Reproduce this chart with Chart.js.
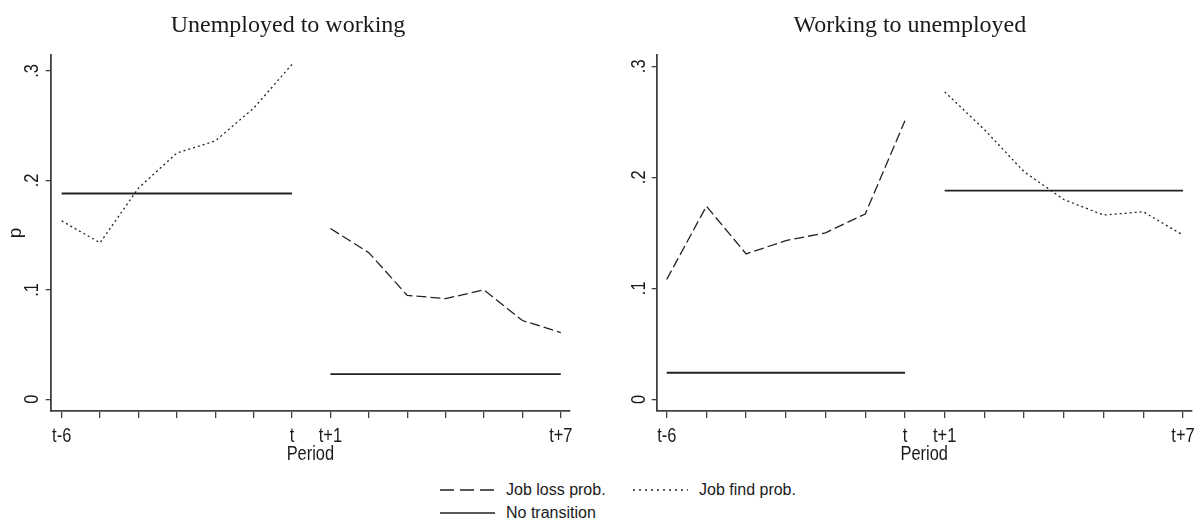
<!DOCTYPE html>
<html>
<head>
<meta charset="utf-8">
<script src="https://cdn.jsdelivr.net/npm/chart.js@4.4.1/dist/chart.umd.min.js"></script>
<style>
    html, body { margin: 0; padding: 0; background: #fff; }
    body { width: 1196px; height: 520px; overflow: hidden; position: relative; }
    .panel { position: absolute; top: 0; width: 598px; height: 470px; }
    #left { left: 0; }
    #right { left: 598px; }
    #legend {
        position: absolute; left: 0; top: 470px; width: 1196px; height: 50px;
        font-family: "Liberation Sans", Arial, sans-serif; font-size: 16px; color: #1a1a1a;
    }
    .item { position: absolute; height: 20px; display: flex; align-items: center; white-space: nowrap; }
    .item svg { margin-right: 11px; }
</style>
</head>
<body>
<div class="panel" id="left"><canvas id="chart-left" width="598" height="470"></canvas></div>
<div class="panel" id="right"><canvas id="chart-right" width="598" height="470"></canvas></div>
<div id="legend">
    <div class="item" style="left:440px; top:10px;">
        <svg width="55" height="6"><line x1="0" y1="3" x2="55" y2="3" stroke="#222" stroke-width="1.3" stroke-dasharray="14 6"/></svg>Job loss prob.
    </div>
    <div class="item" style="left:633px; top:10px;">
        <svg width="55" height="6"><line x1="0" y1="3" x2="55" y2="3" stroke="#222" stroke-width="1.3" stroke-dasharray="2 4"/></svg>Job find prob.
    </div>
    <div class="item" style="left:440px; top:33px;">
        <svg width="55" height="6"><line x1="0" y1="3" x2="55" y2="3" stroke="#222" stroke-width="1.6"/></svg>No transition
    </div>
</div>
<script>
// x positions 0..13 = t-6 .. t+7
const periodLabels = ['t-6', '', '', '', '', '', 't', 't+1', '', '', '', '', '', 't+7'];
const yTicks = [0, 0.1, 0.2, 0.3];
const yTickLabels = ['0', '.1', '.2', '.3'];

// Unemployed to working
const uwJobFind = [0.163, 0.143, 0.193, 0.225, 0.236, 0.266, 0.306, null, null, null, null, null, null, null];
const uwJobLoss = [null, null, null, null, null, null, null, 0.156, 0.134, 0.095, 0.092, 0.100, 0.072, 0.061];
const uwNoTrans = [0.188, 0.188, 0.188, 0.188, 0.188, 0.188, 0.188, 0.023, 0.023, 0.023, 0.023, 0.023, 0.023, 0.023];

// Working to unemployed
const wuJobLoss = [0.108, 0.174, 0.131, 0.143, 0.150, 0.167, 0.251, null, null, null, null, null, null, null];
const wuJobFind = [null, null, null, null, null, null, null, 0.277, 0.243, 0.205, 0.180, 0.166, 0.169, 0.148];
const wuNoTrans = [0.024, 0.024, 0.024, 0.024, 0.024, 0.024, 0.024, 0.188, 0.188, 0.188, 0.188, 0.188, 0.188, 0.188];

const SANS = '"Liberation Sans", Arial, sans-serif';
const SERIF = '"Liberation Serif", "Times New Roman", serif';
const INK = '#1a1a1a';
const AXIS = '#404040';
const NARROW = 0.82;   // no Arial Narrow here, squeeze Liberation Sans instead

function toPoints(arr) {
    return arr.map((v, i) => ({ x: i, y: v }));
}

function narrowText(ctx, text, x, y, rot) {
    ctx.save();
    ctx.translate(x, y);
    if (rot) ctx.rotate(rot);
    ctx.scale(NARROW, 1);
    ctx.fillText(text, 0, 0);
    ctx.restore();
}

// Stata style axis labels: narrow font, y labels turned on their side
const axisLabels = {
    id: 'axisLabels',
    afterDraw(chart, args, opts) {
        const xs = chart.scales.x;
        const ys = chart.scales.y;
        const area = chart.chartArea;
        const ctx = chart.ctx;
        ctx.save();
        ctx.fillStyle = INK;
        ctx.font = '20px ' + SANS;
        ctx.textAlign = 'center';
        ctx.textBaseline = 'alphabetic';
        yTicks.forEach((v, i) => {
            narrowText(ctx, yTickLabels[i], area.left - opts.gap, ys.getPixelForValue(v), -Math.PI / 2);
        });
        periodLabels.forEach((lab, i) => {
            if (lab) narrowText(ctx, lab, xs.getPixelForValue(i), area.bottom + 31, 0);
        });
        narrowText(ctx, 'Period', (area.left + area.right) / 2, area.bottom + 49, 0);
        ctx.restore();
    }
};

function makePanel(id, title, loss, find, none, o) {
    const ctx = document.getElementById(id).getContext('2d');
    return new Chart(ctx, {
        type: 'line',
        data: {
            datasets: [
                {
                    label: 'Job loss prob.',
                    data: toPoints(loss),
                    borderColor: '#222', borderWidth: 1.3, borderDash: [10, 4]
                },
                {
                    label: 'Job find prob.',
                    data: toPoints(find),
                    borderColor: '#222', borderWidth: 1.3, borderDash: [2, 3]
                },
                {
                    label: 'No transition',
                    data: toPoints(none),
                    borderColor: '#222', borderWidth: 1.9,
                    // break between t and t+1
                    segment: { borderColor: c => c.p0DataIndex === 6 ? 'rgba(0,0,0,0)' : undefined }
                }
            ]
        },
        options: {
            responsive: false,
            animation: false,
            elements: { point: { radius: 0 }, line: { tension: 0 } },
            layout: { autoPadding: false, padding: { left: o.padLeft, right: o.padRight, top: 0, bottom: 0 } },
            plugins: {
                legend: { display: false },
                tooltip: { enabled: false },
                title: {
                    display: true, text: title, color: INK,
                    font: { family: SERIF, size: 24, weight: 'normal' },
                    padding: { top: 11, bottom: 15.2 }
                },
                axisLabels: { gap: o.labelGap }
            },
            scales: {
                x: {
                    type: 'linear', min: o.xMin, max: o.xMax,
                    afterBuildTicks: s => { s.ticks = periodLabels.map((_, i) => ({ value: i })); },
                    afterFit: s => { s.height = 59; },
                    ticks: { display: false },
                    grid: { drawOnChartArea: false, drawTicks: true, tickLength: 7, color: AXIS, lineWidth: 1.3 },
                    border: { display: true, color: AXIS, width: 1.8 }
                },
                y: {
                    type: 'linear', min: o.yMin, max: o.yMax,
                    afterBuildTicks: s => { s.ticks = yTicks.map(v => ({ value: v })); },
                    afterFit: s => { s.width = o.yWidth; },
                    ticks: { display: false },
                    grid: { drawOnChartArea: false, drawTicks: true, tickLength: 5, color: AXIS, lineWidth: 1.3 },
                    border: { display: true, color: AXIS, width: 1.8 },
                    title: {
                        display: o.showP, text: 'p', color: INK,
                        font: { family: SANS, size: 19, lineHeight: 1 }, padding: 0
                    }
                }
            }
        },
        plugins: [axisLabels]
    });
}

makePanel('chart-left', 'Unemployed to working', uwJobLoss, uwJobFind, uwNoTrans, {
    padLeft: 6, padRight: 28, yWidth: 44.7, labelGap: 13, showP: true,
    xMin: -0.286, xMax: 13.24, yMin: -0.0107, yMax: 0.3146
});
makePanel('chart-right', 'Working to unemployed', wuJobLoss, wuJobFind, wuNoTrans, {
    padLeft: 30, padRight: 4.3, yWidth: 28.7, labelGap: 12, showP: false,
    xMin: -0.252, xMax: 13.22, yMin: -0.0105, yMax: 0.3102
});
</script>
</body>
</html>
